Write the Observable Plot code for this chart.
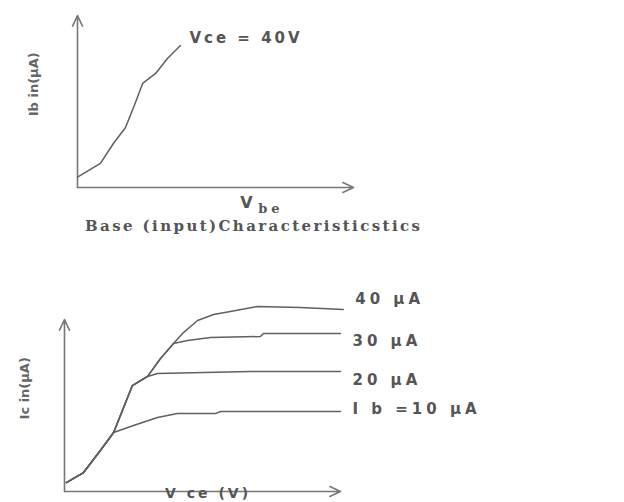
<!DOCTYPE html>
<html>
<head>
<meta charset="utf-8">
<script src="https://cdn.jsdelivr.net/npm/d3@7"></script>
<script src="https://cdn.jsdelivr.net/npm/@observablehq/plot@0.6"></script>
<style>
  html, body { margin: 0; padding: 0; background: #fff; }
  body { width: 624px; height: 502px; overflow: hidden; }
  #caption { height: 28px; box-sizing: border-box; padding-left: 85px; padding-top: 5px;
    font: bold 15px "DejaVu Serif", serif; letter-spacing: 2.4px; color: #555; white-space: nowrap; }
  g[aria-description="vce-note"] text { letter-spacing: 3px; }
  g[aria-description="ib-labels"] text { letter-spacing: 4px; }
  g[aria-description="be-sub"] text { letter-spacing: 4px; }
  g[aria-description="vce-axis"] text { letter-spacing: 3px; }
</style>
</head>
<body>
<div id="top"></div>
<div id="caption">Base (input)Characteristicstics</div>
<div id="bottom"></div>
<script>
// ---- Input (base) characteristic, Vce = 40 V ----
const vbe = [0.0, 0.83, 1.30, 1.74, 2.10, 2.36, 2.83, 3.26, 3.73];
const ib  = [0.6, 1.40, 2.56, 3.49, 4.94, 6.05, 6.63, 7.50, 8.26];

// ---- Output (collector) characteristics ----
const vce10 = [0.07, 0.69, 1.30, 1.78, 2.50, 3.37, 4.09, 5.47, 5.65, 10.0];
const ic10  = [0.52, 1.10, 2.38, 3.43, 3.84, 4.30, 4.53, 4.53, 4.65, 4.65];
const vce20 = [0.07, 0.69, 1.30, 1.78, 2.46, 3.01, 3.37, 6.74, 10.0];
const ic20  = [0.52, 1.10, 2.38, 3.43, 6.16, 6.69, 6.86, 6.98, 6.98];
const vce30 = [0.07, 0.69, 1.30, 1.78, 2.46, 3.01, 3.48, 3.95, 4.46, 5.29, 7.10, 7.21, 10.0];
const ic30  = [0.52, 1.10, 2.38, 3.43, 6.16, 6.69, 7.73, 8.60, 8.78, 8.95, 9.01, 9.19, 9.19];
const vce40 = [0.07, 0.69, 1.30, 1.78, 2.46, 3.01, 3.48, 3.95, 4.31, 4.82, 5.40, 6.01, 6.99, 8.55, 10.1];
const ic40  = [0.52, 1.10, 2.38, 3.43, 6.16, 6.69, 7.73, 8.60, 9.24, 9.94, 10.29, 10.47, 10.76, 10.70, 10.58];
const seriesNames = ["I b =10 μA", "20 μA", "30 μA", "40 μA"];

const axisMax = 10;
const ink = "#606060";
const axisInk = "#777";

// ---------- Top panel ----------
const topCurve = d3.zip(vbe, ib).map(([x, y]) => ({x, y}));
const topAxes = [
  {x1: 0, y1: 0, x2: axisMax, y2: 0},
  {x1: 0, y1: 0, x2: 0, y2: axisMax}
];
const topPlot = Plot.plot({
  width: 624, height: 212,
  marginLeft: 77, marginRight: 271, marginTop: 15, marginBottom: 25,
  x: {domain: [0, axisMax], axis: null},
  y: {domain: [0, axisMax], axis: null},
  style: {background: "#fff", overflow: "visible"},
  marks: [
    Plot.arrow(topAxes, {x1: "x1", y1: "y1", x2: "x2", y2: "y2", stroke: axisInk, strokeWidth: 1.6, headLength: 11, headAngle: 50}),
    Plot.line(topCurve, {x: "x", y: "y", stroke: ink, strokeWidth: 1.5}),
    Plot.text(["Vce = 40V"], {x: vbe[vbe.length - 1], y: ib[ib.length - 1], text: d => d, dx: 9, dy: -7,
      textAnchor: "start", fontFamily: "DejaVu Sans", fontWeight: "bold", fontSize: 15, fill: "#555", ariaDescription: "vce-note"}),
    Plot.text(["V"], {x: axisMax * 0.59, y: 0, text: d => d, dy: 15, textAnchor: "start",
      fontFamily: "DejaVu Sans", fontWeight: "bold", fontSize: 16, fill: "#555"}),
    Plot.text(["be"], {x: axisMax * 0.655, y: 0, text: d => d, dy: 21, textAnchor: "start",
      fontFamily: "DejaVu Serif", fontWeight: "bold", fontSize: 13, fill: "#555", ariaDescription: "be-sub"}),
    Plot.text(["Ib in(μA)"], {x: 0, y: axisMax * 0.6, text: d => d, dx: -44, rotate: -90,
      fontFamily: "DejaVu Sans", fontWeight: "bold", fontSize: 13, fill: "#666"})
  ]
});
document.getElementById("top").append(topPlot);

// ---------- Bottom panel ----------
const outTable = [];
[[vce10, ic10], [vce20, ic20], [vce30, ic30], [vce40, ic40]].forEach(([xs, ys], i) => {
  xs.forEach((x, j) => outTable.push({vce: x, ic: ys[j], series: seriesNames[i]}));
});
const ends = [[vce10, ic10], [vce20, ic20], [vce30, ic30], [vce40, ic40]].map(([xs, ys], i) => ({
  vce: xs[xs.length - 1], ic: ys[ys.length - 1], label: seriesNames[i]
}));
const labelDy = [-2, 9, 8, -10];
const botAxes = [
  {x1: 0, y1: 0, x2: axisMax, y2: 0},
  {x1: 0, y1: 0, x2: 0, y2: axisMax}
];
const botPlot = Plot.plot({
  width: 624, height: 275,
  marginLeft: 64, marginRight: 284, marginTop: 79, marginBottom: 24,
  x: {domain: [0, axisMax], axis: null},
  y: {domain: [0, axisMax], axis: null},
  style: {background: "#fff", overflow: "visible"},
  marks: [
    Plot.arrow(botAxes, {x1: "x1", y1: "y1", x2: "x2", y2: "y2", stroke: axisInk, strokeWidth: 1.6, headLength: 11, headAngle: 50}),
    Plot.line(outTable, {x: "vce", y: "ic", z: "series", stroke: ink, strokeWidth: 1.5}),
    ...ends.map((e, i) => Plot.text([e], {x: "vce", y: "ic", text: "label", dx: 12, dy: labelDy[i],
      textAnchor: "start", fontFamily: "DejaVu Sans", fontWeight: "bold", fontSize: 15, fill: "#555", ariaDescription: "ib-labels"})),
    Plot.text(["V ce (V)"], {x: axisMax * 0.52, y: 0, text: d => d, dy: 6, lineAnchor: "bottom",
      fontFamily: "DejaVu Sans", fontWeight: "bold", fontSize: 14, fill: "#555", ariaDescription: "vce-axis"}),
    Plot.text(["Ic in(μA)"], {x: 0, y: axisMax * 0.6, text: d => d, dx: -40, rotate: -90,
      fontFamily: "DejaVu Sans", fontWeight: "bold", fontSize: 13, fill: "#666"})
  ]
});
document.getElementById("bottom").append(botPlot);
</script>
</body>
</html>
